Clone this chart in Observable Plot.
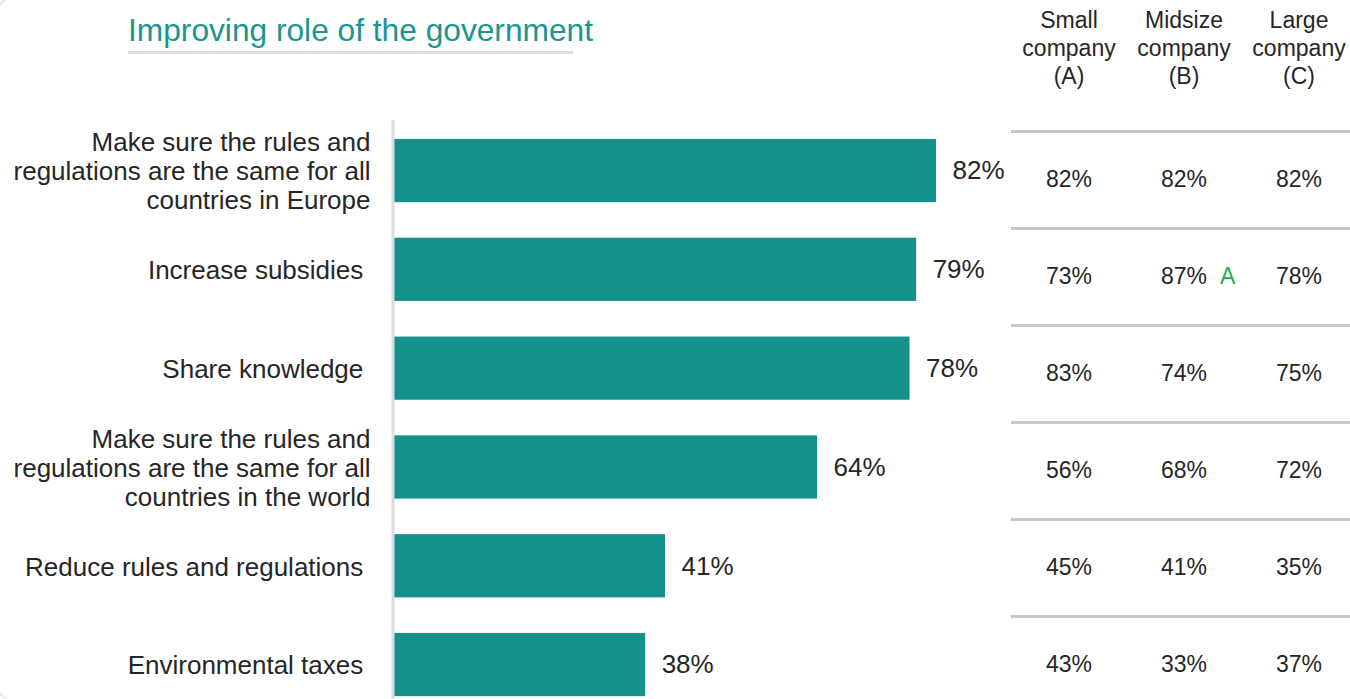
<!DOCTYPE html>
<html>
<head>
<meta charset="utf-8">
<script src="https://cdn.jsdelivr.net/npm/d3@7"></script>
<script src="https://cdn.jsdelivr.net/npm/@observablehq/plot@0.6"></script>
<style>
  html, body { margin: 0; padding: 0; background: #fff; overflow: hidden; }
  #wrap { position: relative; width: 1350px; height: 699px; overflow: hidden; font-family: "Liberation Sans", Arial, sans-serif; }
  #panel { position: absolute; left: -16px; top: -16px; width: 1400px; height: 730px; border: 2px solid #e8e8e8; border-radius: 60px; box-sizing: border-box; }
  #title { position: absolute; left: 128px; top: 14px; font-size: 31.7px; line-height: 32px; color: #1a958f; white-space: nowrap; }
  #underline { position: absolute; left: 128px; top: 51px; width: 445px; height: 3px; background: #dcdcdc; }
  #bars { position: absolute; left: 0; top: 0; width: 1010px; }
  #table { position: absolute; left: 1011px; top: 0; width: 345px; }
  svg { max-width: none !important; }
  svg text { white-space: pre; }
</style>
</head>
<body>
<div id="wrap">
  <div id="panel"></div>
  <div id="title">Improving role of the government</div>
  <div id="underline"></div>
  <div id="bars"></div>
  <div id="table"></div>
</div>
<script>
const categories = [
  "Make sure the rules and\nregulations are the same for all\ncountries in Europe",
  "Increase subsidies ",
  "Share knowledge ",
  "Make sure the rules and\nregulations are the same for all\ncountries in the world",
  "Reduce rules and regulations ",
  "Environmental taxes "
];
const totals = [82, 79, 78, 64, 41, 38];
const segments = ["Small\ncompany\n(A)", "Midsize\ncompany\n(B)", "Large\ncompany\n(C)"];
const small = [82, 73, 83, 56, 45, 43];
const midsize = [82, 87, 74, 68, 41, 33];
const large = [82, 78, 75, 72, 35, 37];
const sigSmall = ["", "", "", "", "", ""];
const sigMidsize = ["", "A", "", "", "", ""];
const sigLarge = ["", "", "", "", "", ""];

const teal = "#15918d";
const ink = "#262626";

const rows = categories.map((c, i) => ({category: c, total: totals[i]}));

const bars = Plot.plot({
  width: 1010,
  height: 699,
  marginLeft: 394,
  marginRight: 0,
  marginTop: 120,
  marginBottom: 0,
  style: {fontFamily: "'Liberation Sans', Arial, sans-serif", background: "transparent", overflow: "visible"},
  x: {domain: [0, 93.2], axis: null},
  y: {type: "band", domain: categories, paddingInner: 0.36, paddingOuter: 0.11, align: 0.87, round: false, axis: null},
  marks: [
    Plot.barX(rows, {x: "total", y: "category", fill: teal}),
    Plot.ruleX([0], {stroke: "#dcdcdc", strokeWidth: 3, dx: -1.5}),
    Plot.text(rows, {x: "total", y: "category", text: d => d.total + "%", textAnchor: "start", dx: 16, fontSize: 26, fill: ink}),
    Plot.text(rows, {y: "category", frameAnchor: "left", text: "category", textAnchor: "end", dx: -24, fontSize: 26, lineHeight: 1.12, fill: ink})
  ]
});
document.getElementById("bars").appendChild(bars);

const cols = [small, midsize, large];
const sigs = [sigSmall, sigMidsize, sigLarge];
const cells = categories.flatMap((c, i) => segments.map((s, j) => ({row: c, col: s, v: cols[j][i], sig: sigs[j][i]})));

const tableTop = 131, rowStep = 97;
const table = Plot.plot({
  width: 345,
  height: tableTop + rowStep * categories.length,
  marginLeft: 0,
  marginRight: 0,
  marginTop: tableTop,
  marginBottom: 0,
  style: {fontFamily: "'Liberation Sans', Arial, sans-serif", background: "transparent", overflow: "visible"},
  x: {type: "band", domain: segments, padding: 0, round: false},
  y: {type: "band", domain: categories, padding: 0, round: false, axis: null},
  marks: [
    Plot.axisX({anchor: "top", tickSize: 0, tickPadding: 48, fontSize: 23, lineHeight: 1.2, fill: ink, label: null}),
    Plot.ruleY(categories, {y: d => d, stroke: "#c8c8c8", strokeWidth: 3, dy: -rowStep / 2}),
    Plot.text(cells, {x: "col", y: "row", text: d => d.v + "%", fontSize: 23, fill: ink}),
    Plot.text(cells.filter(d => d.sig), {x: "col", y: "row", text: "sig", textAnchor: "start", dx: 36, fontSize: 23, fill: "#1fae4f"})
  ]
});
document.getElementById("table").appendChild(table);
</script>
</body>
</html>
